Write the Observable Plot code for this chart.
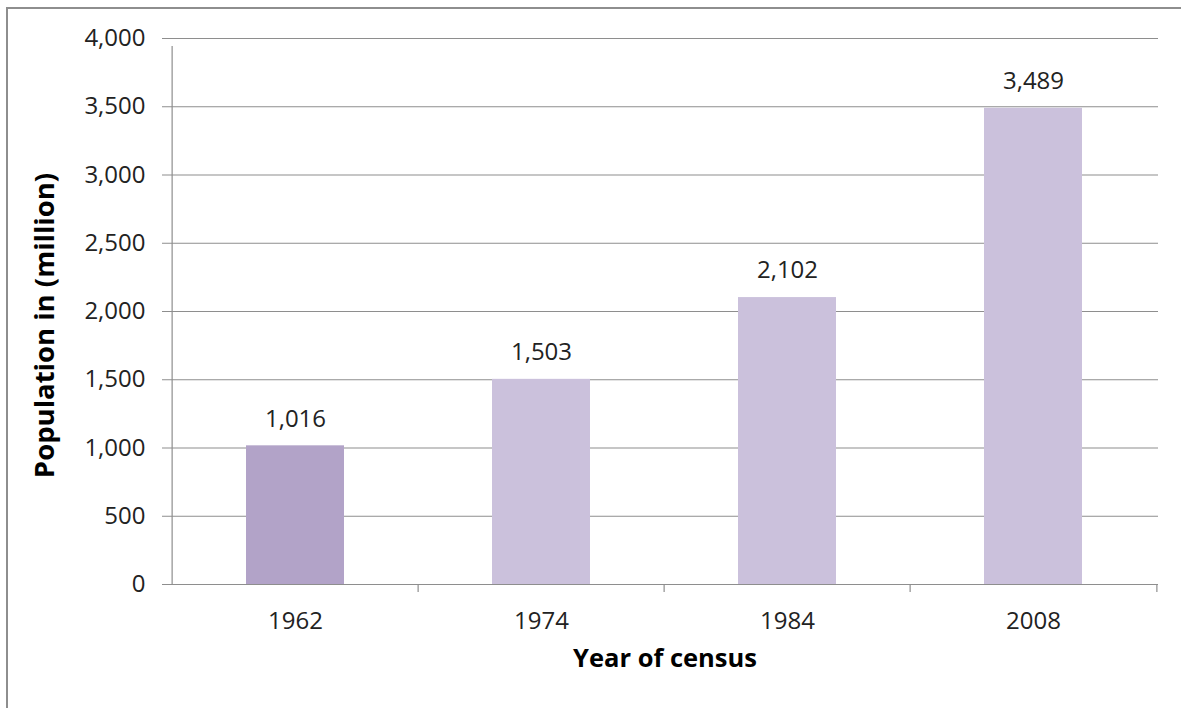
<!DOCTYPE html>
<html>
<head>
<meta charset="utf-8">
<script src="https://cdn.jsdelivr.net/npm/d3@7"></script>
<script src="https://cdn.jsdelivr.net/npm/@observablehq/plot@0.6"></script>
<style>
  html, body { margin: 0; padding: 0; background: #fff; }
  #wrap { position: relative; width: 1181px; height: 708px; overflow: hidden; }
  #frame { position: absolute; left: 6px; top: 7px; right: -10px; bottom: -10px;
           border-left: 2px solid #8e8e8e; border-top: 2px solid #8e8e8e; pointer-events: none; }
</style>
</head>
<body>
<div id="wrap"><div id="frame"></div></div>
<script>
const years = ["1962", "1974", "1984", "2008"];
const population = [1016, 1503, 2102, 3489];
const yTicks = [0, 500, 1000, 1500, 2000, 2500, 3000, 3500, 4000];
const xTitle = "Year of census";
const yTitle = "Population in (million)";

const data = years.map((y, i) => ({year: y, value: population[i]}));

const W = 1181, H = 708;
const mL = 171, mR = 23, mT = 38, mB = 124;
const step = (W - mL - mR) / years.length;
const font = "'Open Sans', sans-serif";
const gridColor = "#8e8e8e";
const fs = 24;

const chart = Plot.plot({
  width: W,
  height: H,
  marginLeft: mL,
  marginRight: mR,
  marginTop: mT,
  marginBottom: mB,
  style: {fontFamily: font, fontSize: fs + "px", color: "#222", background: "transparent"},
  x: {domain: years, paddingInner: 0.6, paddingOuter: 0.3, label: null},
  y: {domain: [0, 4000], label: null},
  marks: [
    Plot.ruleY(yTicks, {y: d => d, stroke: gridColor, strokeWidth: 1.2, insetLeft: -9}),
    Plot.barY(data, {x: "year", y: "value",
      fill: d => d.year === "1962" ? "#b2a3c8" : "#cbc1dc"}),
    Plot.ruleY([0], {stroke: gridColor, strokeWidth: 1.2, insetLeft: -9}),
    Plot.ruleX([years[0]], {x: d => d, y1: 0, y2: 4000, dx: -step / 2, insetBottom: -8, stroke: gridColor, strokeWidth: 1.2}),
    Plot.ruleX(years.slice(1), {x: d => d, y1: 0, y2: 0, dx: -step / 2, insetBottom: -8, stroke: gridColor, strokeWidth: 1.2}),
    Plot.ruleX([years[years.length - 1]], {x: d => d, y1: 0, y2: 0, dx: step / 2, insetBottom: -8, stroke: gridColor, strokeWidth: 1.2}),
    Plot.text(data, {x: "year", y: "value", text: d => d3.format(",")(d.value), dy: -27, fill: "#222", fontSize: fs}),
    Plot.axisY({ticks: yTicks, tickFormat: d3.format(","), tickSize: 0, tickPadding: 26, fontSize: fs, fill: "#222"}),
    Plot.axisX({tickSize: 0, tickPadding: 27, fontSize: fs, fill: "#222"}),
    Plot.text([xTitle], {frameAnchor: "bottom", dy: 82, fontWeight: "bold", fontSize: 25.5, fill: "#000"}),
    Plot.text([yTitle], {frameAnchor: "left", textAnchor: "middle", rotate: -90, dx: -126, dy: 14, fontWeight: "bold", fontSize: 27.5, fill: "#000"})
  ]
});
document.getElementById("wrap").prepend(chart);
</script>
</body>
</html>
